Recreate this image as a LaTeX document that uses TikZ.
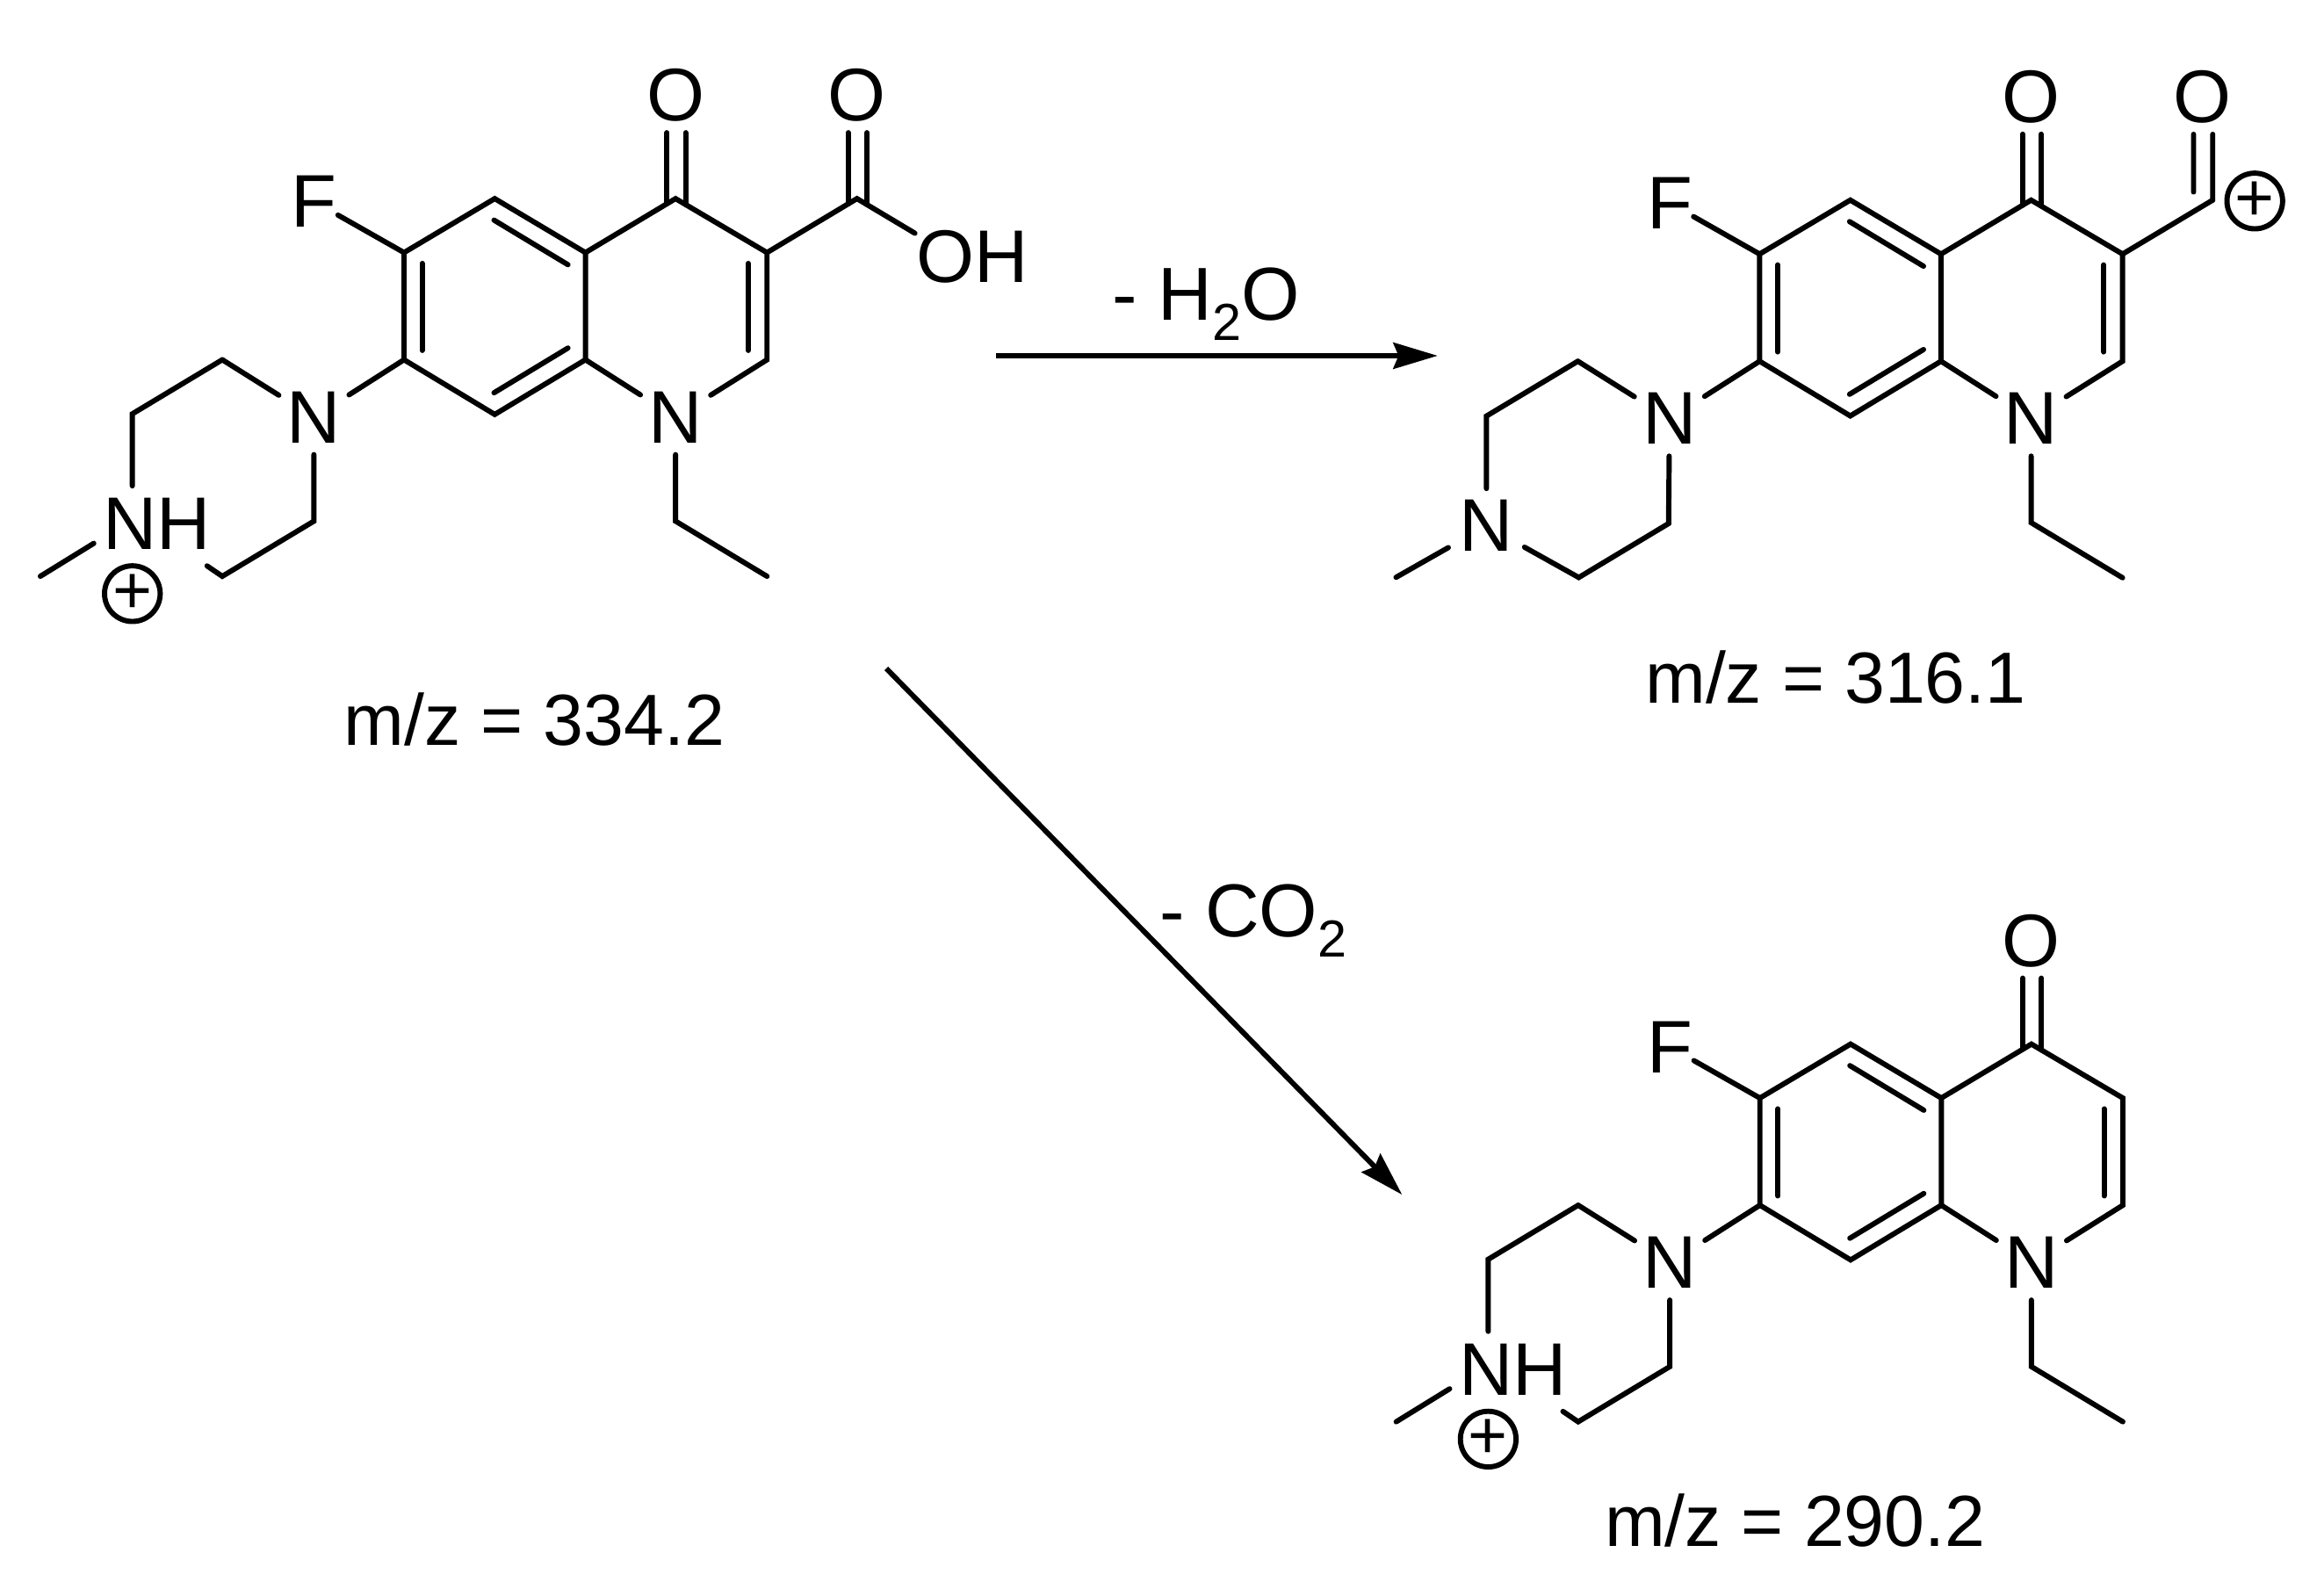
\documentclass[tikz,border=0pt]{standalone}
\usepackage{fontspec}
\setmainfont{Liberation Sans}
\usetikzlibrary{arrows.meta}

\tikzset{
  bond/.style={line width=1pt, line cap=round},
  atom/.style={inner sep=0, minimum width=0.46cm, minimum height=0.49cm, font=\fontsize{14.3}{17}\selectfont},
  charge/.style={draw, circle, line width=1pt, inner sep=0, minimum size=0.36cm, font=\fontsize{13}{15}\selectfont},
  caption/.style={anchor=base, inner sep=0, font=\fontsize{13.9}{17}\selectfont},
  loss/.style={anchor=base, inner sep=0, font=\fontsize{14.4}{17}\selectfont},
  reaction/.style={line width=1pt, -{Stealth[length=8.5pt, width=5pt, inset=1pt]}}
}

% shared ring system
\newcommand{\quinolone}{
  \foreach \name/\x/\y in {c6/272.6/170.4, c5/333.8/134, c4a/395/170.4, c8a/395/242.7, c8/333.8/279.6, c7/272.6/242.7,
                           c4/455.8/134, c3/517.5/170.4, c2/517.5/242.7, et1/455.8/351.6, et2/517.5/388.8,
                           i1/284.8/177.7, i2/284.8/236.4, i3/333.3/148.5, i4/383.2/178.6,
                           i5/333.3/265, i6/383.2/234.8, i7/504.8/177.7, i8/504.8/236.4,
                           p1/150/242.7}{
    \coordinate (\name) at (\x,\y);
  }
  \node[atom, minimum width=0.28cm] (f) at (212,136) {F};
  \node[atom] (n7) at (211.8,281.5) {N};
  \node[atom] (n1) at (455.8,281.5) {N};
  \node[atom] (o4) at (455.8,64.3) {O};
  \draw[bond] (c6) -- (c5) -- (c4a) -- (c8a) -- (c8) -- (c7) -- cycle;
  \draw[bond] (c4a) -- (c4) -- (c3) -- (c2) -- (n1);
  \draw[bond] (c8a) -- (n1);
  \draw[bond] (n1) -- (et1) -- (et2);
  \draw[bond] (c6) -- (f);
  \draw[bond] (c7) -- (n7);
  \draw[bond] (n7) -- (p1);
  \foreach \a/\b in {i1/i2, i3/i4, i5/i6, i7/i8}{
    \draw[bond] (\a) -- (\b);
  }
  \draw[bond] ([xshift=-0.058cm]o4.south) -- ([xshift=-0.058cm, yshift=-0.035cm]c4);
  \draw[bond] ([xshift=0.068cm]o4.south) -- ([xshift=0.068cm, yshift=-0.04cm]c4);
}

% protonated ring with the methyl group
\newcommand{\piperazinium}{
  \foreach \name/\x/\y in {p2/89.3/279.2, p3/211.8/351.6, p4/150/388.8, p5/139.7/381.8, me/27.2/388.8}{
    \coordinate (\name) at (\x,\y);
  }
  \node[atom, minimum width=0.84cm, minimum height=0.5cm] (nh) at (106,353.5) {NH};
  \node[charge] (plus) at (89.3,400.5) {+};
  \draw[bond] (p1) -- (p2) -- (p2 |- nh.north);
  \draw[bond] (n7) -- (p3) -- (p4) -- (p5);
  \draw[bond] (me) -- (nh.197);
}

\begin{document}
\begin{tikzpicture}[x=0.01cm, y=-0.01cm]
  \useasboundingbox (0,0) rectangle (1568,1076.7);

  % m/z 334.2
  \begin{scope}[name prefix=a-]
    \quinolone
    \piperazinium
    \coordinate (c9) at (578.2,134);
    \node[atom] (o9) at (578.2,64.3) {O};
    \node[atom, minimum width=0.76cm] (oh) at (656,173) {OH};
    \draw[bond] (c3) -- (c9) -- (oh.158);
    \draw[bond] ([xshift=-0.059cm]o9.south) -- ([xshift=-0.059cm, yshift=-0.035cm]c9);
    \draw[bond] ([xshift=0.068cm]o9.south) -- ([xshift=0.068cm, yshift=-0.04cm]c9);
    \node[caption] (mass) at (360.5,503) {m/z = 334.2};
  \end{scope}

  % m/z 316.1
  \begin{scope}[shift={(914.6,1)}, name prefix=b-]
    \quinolone
    \foreach \name/\x/\y in {p2/88.3/279.7, p3/211.2/352.2, p4/150.6/388.6, me/27.3/388.5, c9/578.3/134}{
      \coordinate (\name) at (\x,\y);
    }
    \node[atom, minimum width=0.5cm] (n4) at (88.3,353.8) {N};
    \draw[bond] (p1) -- (p2) -- (n4);
    \draw[bond] (n7) -- (p3) -- (p4) -- (n4);
    \draw[bond] (me) -- (n4);
    \node[atom] (o9) at (571.6,64.4) {O};
    \node[charge] (plus) at (606.7,134.6) {+};
    \draw[bond] (c3) -- (c9);
    \draw[bond] ([xshift=-0.062cm]o9.south) -- ([xshift=-0.129cm, yshift=0.055cm]c9);
    \draw[bond] ([xshift=0.067cm]o9.south) -- (c9);
    \node[caption] (mass) at (323.9,473.2) {m/z = 316.1};
  \end{scope}

  % m/z 290.2
  \begin{scope}[shift={(914.8,570.4)}, name prefix=c-]
    \quinolone
    \piperazinium
    \node[caption] (mass) at (296.4,472.6) {m/z = 290.2};
  \end{scope}

  % reaction arrows
  \coordinate (s1) at (672,240);
  \coordinate (e1) at (970,240);
  \coordinate (s2) at (598,451);
  \coordinate (e2) at (946,806);
  \draw[reaction] (s1) -- (e1);
  \draw[reaction] (s2) -- (e2);
  \node[loss] (loss1) at (813.5,216) {- H\raisebox{-0.5ex}{\fontsize{10}{12}\selectfont 2}O};
  \node[loss] (loss2) at (845.5,632) {- CO\raisebox{-0.5ex}{\fontsize{10}{12}\selectfont 2}};
\end{tikzpicture}
\end{document}
